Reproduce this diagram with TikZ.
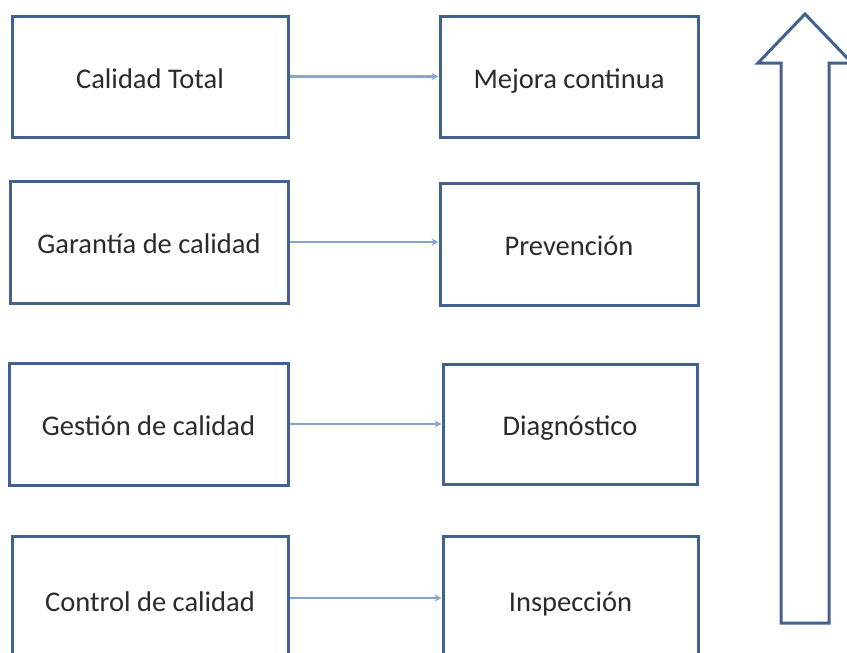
\documentclass[tikz,border=0pt]{standalone}
\usepackage{fontspec}
\setmainfont{Carlito}
\usetikzlibrary{arrows.meta}
\definecolor{boxblue}{HTML}{41628F}
\definecolor{linkblue}{HTML}{86A6D0}
\definecolor{txt}{HTML}{2B2B2B}
\begin{document}
\begin{tikzpicture}[x=1pt,y=-1pt,
  stagebox/.style={draw=boxblue,line width=3pt,fill=white,inner sep=0pt,
    text height=23pt,text depth=0pt,
    text=txt,font=\fontsize{28.5}{34}\selectfont},
  link/.style={draw=linkblue,line width=2.2pt,-{Stealth[length=7pt,width=7pt]}}]
\useasboundingbox (0,0) rectangle (847,653);
\clip (0,0) rectangle (847,653);
% left column
\node[stagebox,minimum width=276pt,minimum height=121pt] (l1) at (150,76.5) {Calidad Total};
\node[stagebox,minimum width=278pt,minimum height=122pt] (l2) at (149,242) {Garantía de calidad};
\node[stagebox,minimum width=279pt,minimum height=122pt] (l3) at (148.5,424) {Gestión de calidad};
\node[stagebox,minimum width=276pt,minimum height=128pt] (l4) at (150,600) {Control de calidad};
% right column
\node[stagebox,minimum width=258pt,minimum height=121pt] (r1) at (569,76.5) {Mejora continua};
\node[stagebox,minimum width=258pt,minimum height=122pt] (r2) at (569,244) {Prevención};
\node[stagebox,minimum width=254pt,minimum height=120pt] (r3) at (570,424) {Diagnóstico};
\node[stagebox,minimum width=255pt,minimum height=128pt] (r4) at (570.5,600) {Inspección};
% connectors
\draw[link] (l1.east) -- (l1.east -| r1.west);
\draw[link] (l2.east) -- (l2.east -| r2.west);
\draw[link] (l3.east) -- (l3.east -| r3.west);
\draw[link] (l4.east |- 0,598) -- (r4.west |- 0,598);
% big upward arrow
\draw[boxblue,line width=3pt,line join=miter,fill=white]
  (781,623) -- (781,63) -- (758,63) -- (805,14) -- (852,63) -- (829,63) -- (829,623) -- cycle;
\end{tikzpicture}
\end{document}
